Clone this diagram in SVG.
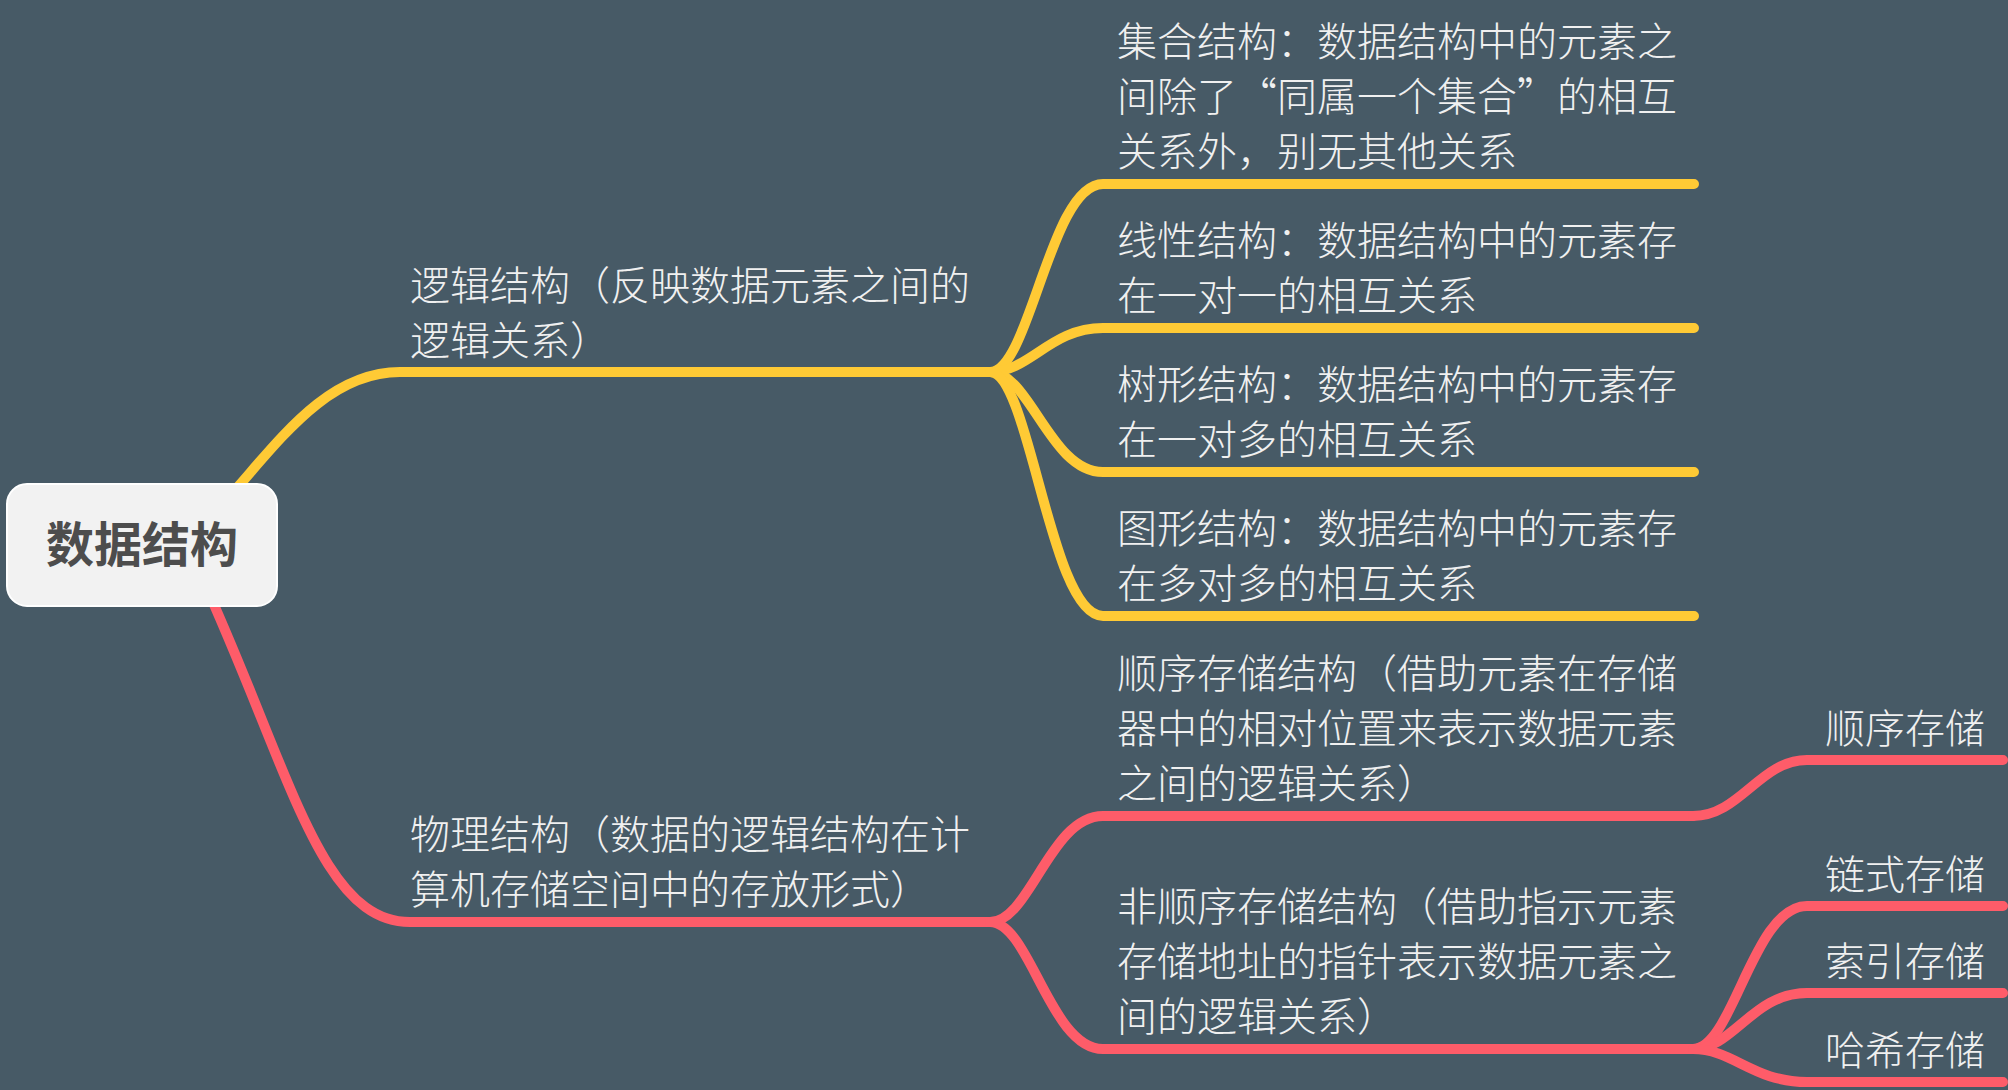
<svg xmlns="http://www.w3.org/2000/svg" width="2008" height="1090" viewBox="0 0 2008 1090">
<style>
.bg{fill:#475a66}
.y{fill:none;stroke:#ffca35;stroke-width:10;stroke-linecap:round}
.r{fill:none;stroke:#fe5c69;stroke-width:10;stroke-linecap:round}
.t{font-family:"Noto Sans CJK SC","Noto Sans",sans-serif;font-size:40px;font-weight:300;fill:#f0f0f0}
.root{font-family:"Noto Sans CJK SC","Noto Sans",sans-serif;font-size:48px;font-weight:bold;fill:#4d4d4d}
</style>
<rect class="bg" x="0" y="0" width="2008" height="1090"/>
<g id="connectors">
<path class="y" d="M215,512 C270,455 320,372 400,372 L990,372"/>
<path class="y" d="M990,372 C1030,372 1050,184 1103,184 L1694,184"/>
<path class="y" d="M990,372 C1030,372 1050,328 1103,328 L1694,328"/>
<path class="y" d="M990,372 C1030,372 1050,472 1103,472 L1694,472"/>
<path class="y" d="M990,372 C1030,372 1050,616 1103,616 L1694,616"/>
<path class="r" d="M203,580 C290,770 320,922 410,922 L990,922"/>
<path class="r" d="M990,922 C1030,922 1050,816 1103,816 L1693,816"/>
<path class="r" d="M990,922 C1030,922 1050,1049 1103,1049 L1693,1049"/>
<path class="r" d="M1693,816 C1740,816 1760,760 1807,760 L2003,760"/>
<path class="r" d="M1693,1049 C1733,1049 1753,906 1807,906 L2003,906"/>
<path class="r" d="M1693,1049 C1733,1049 1753,993 1807,993 L2003,993"/>
<path class="r" d="M1693,1049 C1733,1049 1753,1082 1807,1082 L2003,1082"/>
</g>
<g id="root">
<rect x="7" y="484" width="270" height="122" rx="20" ry="20" fill="#f2f2f2" stroke="#ffffff" stroke-width="2"/>
<text class="root" x="142" y="562" text-anchor="middle">数据结构</text>
</g>
<g id="logic">
<text class="t" x="410" y="300">逻辑结构（反映数据元素之间的</text>
<text class="t" x="410" y="355">逻辑关系）</text>
</g>
<g id="set">
<text class="t" x="1117" y="56">集合结构：数据结构中的元素之</text>
<text class="t" x="1117" y="111">间除了“同属一个集合”的相互</text>
<text class="t" x="1117" y="166">关系外，别无其他关系</text>
</g>
<g id="linear">
<text class="t" x="1117" y="255">线性结构：数据结构中的元素存</text>
<text class="t" x="1117" y="310">在一对一的相互关系</text>
</g>
<g id="tree">
<text class="t" x="1117" y="399">树形结构：数据结构中的元素存</text>
<text class="t" x="1117" y="454">在一对多的相互关系</text>
</g>
<g id="graph">
<text class="t" x="1117" y="543">图形结构：数据结构中的元素存</text>
<text class="t" x="1117" y="598">在多对多的相互关系</text>
</g>
<g id="physical">
<text class="t" x="410" y="849">物理结构（数据的逻辑结构在计</text>
<text class="t" x="410" y="904">算机存储空间中的存放形式）</text>
</g>
<g id="sequential">
<text class="t" x="1117" y="688">顺序存储结构（借助元素在存储</text>
<text class="t" x="1117" y="743">器中的相对位置来表示数据元素</text>
<text class="t" x="1117" y="798">之间的逻辑关系）</text>
</g>
<g id="nonsequential">
<text class="t" x="1117" y="921">非顺序存储结构（借助指示元素</text>
<text class="t" x="1117" y="976">存储地址的指针表示数据元素之</text>
<text class="t" x="1117" y="1031">间的逻辑关系）</text>
</g>
<g id="seq-storage"><text class="t" x="1825" y="743">顺序存储</text></g>
<g id="linked-storage"><text class="t" x="1825" y="889">链式存储</text></g>
<g id="index-storage"><text class="t" x="1825" y="976">索引存储</text></g>
<g id="hash-storage"><text class="t" x="1825" y="1065">哈希存储</text></g>
</svg>
